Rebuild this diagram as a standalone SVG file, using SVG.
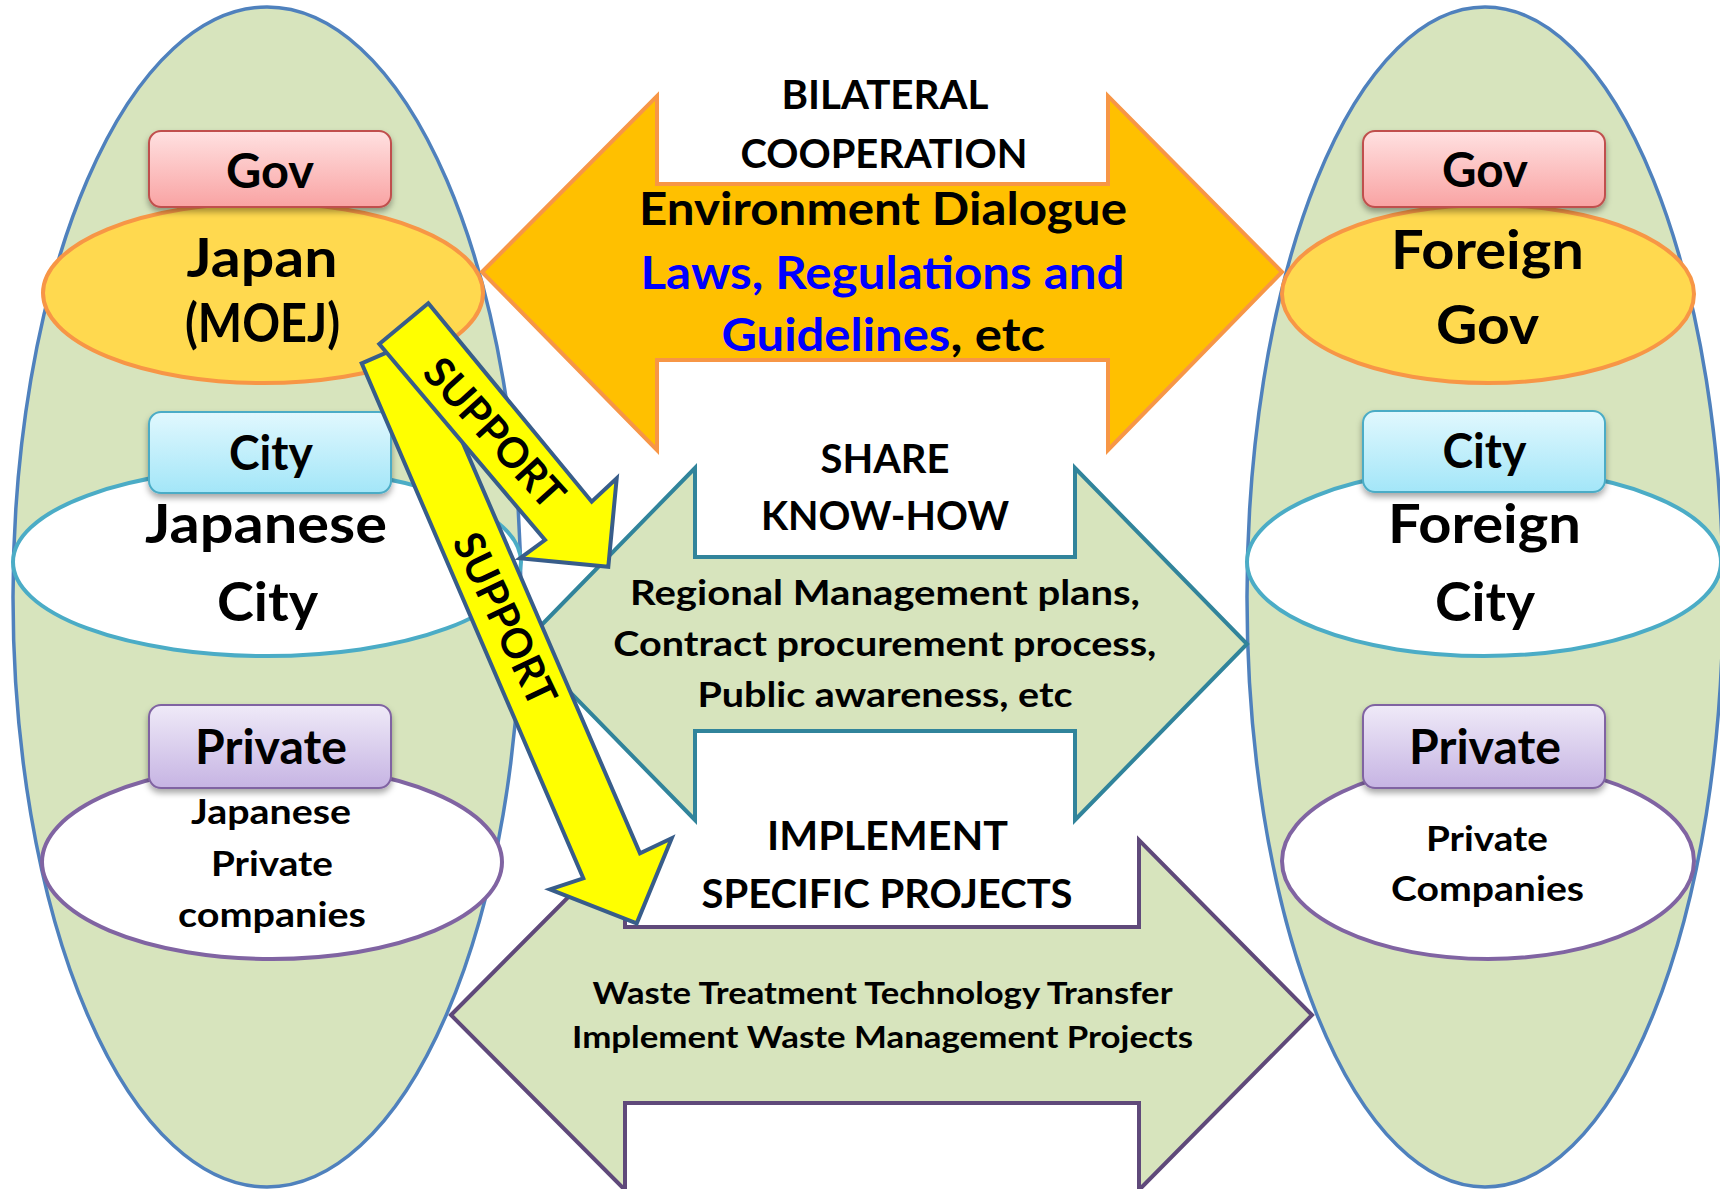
<svg xmlns="http://www.w3.org/2000/svg" width="1720" height="1189" viewBox="0 0 1720 1189">
<defs>
<style>
.t{font-family:Lato,'Open Sans','Liberation Sans',sans-serif;font-weight:700;fill:#000;text-anchor:middle;}
.blue{fill:#0000ff;}
.outer{fill:#d7e4bd;stroke:#4f81bd;stroke-width:3.5;}
.govell{fill:#ffd94f;stroke:#f79646;stroke-width:4;}
.cityell{fill:#fff;stroke:#4bacc6;stroke-width:4;}
.privell{fill:#fff;stroke:#8064a2;stroke-width:4;}
.govbox{fill:url(#gGov);stroke:#c0504d;stroke-width:2;filter:url(#sh);}
.citybox{fill:url(#gCity);stroke:#4bacc6;stroke-width:2;filter:url(#sh);}
.privbox{fill:url(#gPriv);stroke:#8064a2;stroke-width:2;filter:url(#sh);}
.orange{fill:#ffc000;stroke:#f79646;stroke-width:4;stroke-linejoin:miter;}
.teal{fill:#d7e4bd;stroke:#31849b;stroke-width:4;}
.purple{fill:#d7e4bd;stroke:#5f497a;stroke-width:4;}
.support{fill:#ffff00;stroke:#385d8a;stroke-width:4;}
</style>
<linearGradient id="gGov" x1="0" y1="0" x2="0" y2="1"><stop offset="0" stop-color="#ffe1e1"/><stop offset="1" stop-color="#f9a3a3"/></linearGradient>
<linearGradient id="gCity" x1="0" y1="0" x2="0" y2="1"><stop offset="0" stop-color="#e1f8fe"/><stop offset="1" stop-color="#a3e6f8"/></linearGradient>
<linearGradient id="gPriv" x1="0" y1="0" x2="0" y2="1"><stop offset="0" stop-color="#efeaf8"/><stop offset="1" stop-color="#c6b4e3"/></linearGradient>
<filter id="sh" x="-10%" y="-20%" width="120%" height="160%"><feDropShadow dx="0" dy="4" stdDeviation="3" flood-color="#000" flood-opacity="0.35"/></filter>
</defs>
<rect width="1720" height="1189" fill="#fff"/>

<g id="japan-side">
<ellipse class="outer" cx="267" cy="597" rx="254" ry="590"/>
</g>
<g id="foreign-side">
<ellipse class="outer" cx="1485" cy="597" rx="238" ry="590"/>
</g>

<g id="japan-gov">
<ellipse class="govell" cx="263" cy="293" rx="220" ry="90"/>
<rect class="govbox" x="149" y="131" width="242" height="76" rx="12"/>
<text class="t" x="270" y="188" font-size="47" textLength="88" lengthAdjust="spacingAndGlyphs">Gov</text>
<text class="t" x="262" y="277" font-size="53" textLength="151" lengthAdjust="spacingAndGlyphs">Japan</text>
<text class="t" x="262.5" y="342" font-size="53" textLength="155" lengthAdjust="spacingAndGlyphs">(MOEJ)</text>
</g>
<g id="japan-city">
<ellipse class="cityell" cx="267" cy="562" rx="254" ry="94"/>
<rect class="citybox" x="149" y="412" width="242" height="81" rx="12"/>
<text class="t" x="271" y="470" font-size="47" textLength="84" lengthAdjust="spacingAndGlyphs">City</text>
<text class="t" x="266" y="543" font-size="53" textLength="242" lengthAdjust="spacingAndGlyphs">Japanese</text>
<text class="t" x="267.5" y="621" font-size="53" textLength="101" lengthAdjust="spacingAndGlyphs">City</text>
</g>
<g id="japan-private">
<ellipse class="privell" cx="272" cy="862" rx="230" ry="97"/>
<rect class="privbox" x="149" y="705" width="242" height="83" rx="12"/>
<text class="t" x="271" y="764" font-size="47" textLength="152" lengthAdjust="spacingAndGlyphs">Private</text>
<text class="t" x="271" y="824" font-size="34" textLength="160" lengthAdjust="spacingAndGlyphs">Japanese</text>
<text class="t" x="272" y="876" font-size="34" textLength="122" lengthAdjust="spacingAndGlyphs">Private</text>
<text class="t" x="272" y="927" font-size="34" textLength="188" lengthAdjust="spacingAndGlyphs">companies</text>
</g>

<g id="foreign-gov">
<ellipse class="govell" cx="1488" cy="294" rx="206" ry="89"/>
<rect class="govbox" x="1363" y="131" width="242" height="76" rx="12"/>
<text class="t" x="1485" y="187" font-size="47" textLength="86" lengthAdjust="spacingAndGlyphs">Gov</text>
<text class="t" x="1487.5" y="269" font-size="53" textLength="193" lengthAdjust="spacingAndGlyphs">Foreign</text>
<text class="t" x="1487.5" y="344" font-size="53" textLength="103" lengthAdjust="spacingAndGlyphs">Gov</text>
</g>
<g id="foreign-city">
<ellipse class="cityell" cx="1484" cy="562" rx="237" ry="94"/>
<rect class="citybox" x="1363" y="411" width="242" height="81" rx="12"/>
<text class="t" x="1484.5" y="468" font-size="47" textLength="84" lengthAdjust="spacingAndGlyphs">City</text>
<text class="t" x="1484.5" y="543" font-size="53" textLength="193" lengthAdjust="spacingAndGlyphs">Foreign</text>
<text class="t" x="1485" y="621" font-size="53" textLength="100" lengthAdjust="spacingAndGlyphs">City</text>
</g>
<g id="foreign-private">
<ellipse class="privell" cx="1488" cy="861" rx="206" ry="98"/>
<rect class="privbox" x="1363" y="705" width="242" height="83" rx="12"/>
<text class="t" x="1485" y="764" font-size="47" textLength="152" lengthAdjust="spacingAndGlyphs">Private</text>
<text class="t" x="1487" y="851" font-size="34" textLength="122" lengthAdjust="spacingAndGlyphs">Private</text>
<text class="t" x="1487.5" y="901" font-size="34" textLength="193" lengthAdjust="spacingAndGlyphs">Companies</text>
</g>

<g id="connectors">
<polygon id="bilateral-arrow" class="orange" points="482,272 657,96 657,184 1108,184 1108,96 1282,272 1108,450 1108,360 657,360 657,450"/>
<polygon id="share-arrow" class="teal" points="523,644 695,468 695,557 1075,557 1075,468 1247,644 1075,820 1075,731 695,731 695,820"/>
<polygon id="implement-arrow" class="purple" points="451,1015 625,840 625,927 1139,927 1139,840 1312,1015 1139,1190 1139,1103 625,1103 625,1190"/>
<polygon id="support-city" class="support" points="361.7,363.3 418,339 640,853.3 671.7,838.3 636.7,923.3 550,889.3 583.3,878.3"/>
<polygon id="support-gov" class="support" points="428.3,303.3 591.7,501.7 616.7,478.3 608.3,566.7 520,558.3 545,540 379.3,344"/>
</g>

<g id="labels">
<text class="t" x="885" y="109" font-size="40" textLength="207" lengthAdjust="spacingAndGlyphs">BILATERAL</text>
<text class="t" x="884" y="167.6" font-size="40" textLength="287" lengthAdjust="spacingAndGlyphs">COOPERATION</text>
<text class="t" x="883" y="225" font-size="45" textLength="488" lengthAdjust="spacingAndGlyphs">Environment Dialogue</text>
<text class="t blue" x="882.5" y="289" font-size="45" textLength="484" lengthAdjust="spacingAndGlyphs">Laws, Regulations and</text>
<text class="t blue" x="721.4" y="351" font-size="45" style="text-anchor:start" textLength="229" lengthAdjust="spacingAndGlyphs">Guidelines</text>
<text class="t" x="950.5" y="351" font-size="45" style="text-anchor:start" textLength="94.5" lengthAdjust="spacingAndGlyphs">, etc</text>
<text class="t" x="885" y="472.6" font-size="41" textLength="129" lengthAdjust="spacingAndGlyphs">SHARE</text>
<text class="t" x="885" y="530" font-size="41" textLength="248" lengthAdjust="spacingAndGlyphs">KNOW-HOW</text>
<text class="t" x="885" y="605" font-size="35" textLength="510" lengthAdjust="spacingAndGlyphs">Regional Management plans,</text>
<text class="t" x="884.8" y="655.8" font-size="35" textLength="543" lengthAdjust="spacingAndGlyphs">Contract procurement process,</text>
<text class="t" x="885" y="706.7" font-size="35" textLength="375" lengthAdjust="spacingAndGlyphs">Public awareness, etc</text>
<text class="t" x="887.5" y="850" font-size="41" textLength="241" lengthAdjust="spacingAndGlyphs">IMPLEMENT</text>
<text class="t" x="887" y="907.6" font-size="41" textLength="371" lengthAdjust="spacingAndGlyphs">SPECIFIC PROJECTS</text>
<text class="t" x="882.6" y="1004" font-size="31" textLength="580" lengthAdjust="spacingAndGlyphs">Waste Treatment Technology Transfer</text>
<text class="t" x="882.6" y="1048" font-size="31" textLength="621" lengthAdjust="spacingAndGlyphs">Implement Waste Management Projects</text>
<text class="t" transform="translate(494.7,432.8) rotate(47.8)" x="0" y="15" font-size="42" textLength="186" lengthAdjust="spacingAndGlyphs">SUPPORT</text>
<text class="t" transform="translate(505.2,619.2) rotate(64.6)" x="0" y="15" font-size="42" textLength="186" lengthAdjust="spacingAndGlyphs">SUPPORT</text>
</g>
</svg>
